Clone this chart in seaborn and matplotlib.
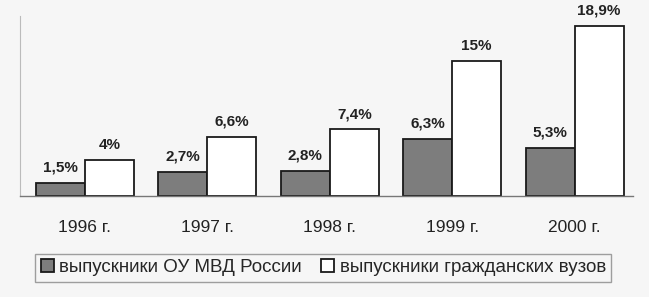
import numpy as np
import pandas as pd
import seaborn as sns
import matplotlib.pyplot as plt

# data
years = ["1996 г.", "1997 г.", "1998 г.", "1999 г.", "2000 г."]
mvd = [1.5, 2.7, 2.8, 6.3, 5.3]
civil = [4.0, 6.6, 7.4, 15.0, 18.9]
series = ["выпускники ОУ МВД России", "выпускники гражданских вузов"]

df = pd.DataFrame({
    "year": years * 2,
    "value": mvd + civil,
    "group": [series[0]] * len(years) + [series[1]] * len(years),
})

sns.set_style("white")
plt.rcParams["font.family"] = ["Liberation Sans", "DejaVu Sans"]

fig = plt.figure(figsize=(6.49, 2.97), dpi=100)
fig.patch.set_facecolor("#f6f6f6")
ax = fig.add_axes([0.031, 0.340, 0.945, 0.606])
ax.set_facecolor("none")

sns.barplot(data=df, x="year", y="value", hue="group", hue_order=series,
            palette=["#7d7d7d", "white"], edgecolor="#1a1a1a", linewidth=1.3,
            width=0.8, ax=ax)

# value labels in the "1,5%" style
for cont, vals in zip(ax.containers, [mvd, civil]):
    labels = [f"{v:g}".replace(".", ",") + "%" for v in vals]
    ax.bar_label(cont, labels=labels, padding=6, fontsize=11,
                 fontweight="bold", color="#222222")

ax.set_xlim(-0.53, 4.48)
ax.set_ylim(0, 20)
ax.set_yticks([0, 5, 10, 15, 20])
ax.set_yticklabels([])
ax.tick_params(axis="y", length=4, color="#aaaaaa", direction="out")
ax.tick_params(axis="x", length=0, pad=17, labelsize=12.5, colors="#222222")
ax.set_xlabel("")
ax.set_ylabel("")
for s in ["top", "right"]:
    ax.spines[s].set_visible(False)
ax.spines["left"].set_color("#bbbbbb")
ax.spines["left"].set_linewidth(0.8)
ax.spines["bottom"].set_color("#777777")
ax.spines["bottom"].set_linewidth(1.0)

handles, labs = ax.get_legend_handles_labels()
ax.get_legend().remove()
leg = fig.legend(handles, labs, loc="center", bbox_to_anchor=(0.498, 0.098),
                 ncol=2, frameon=True, fontsize=13.5, handlelength=0.7,
                 handleheight=0.7, handletextpad=0.3, columnspacing=1.0,
                 borderpad=0.3, fancybox=False, edgecolor="#888888")
leg.get_frame().set_facecolor("none")

fig.savefig("out.png", dpi=100, facecolor=fig.get_facecolor())
